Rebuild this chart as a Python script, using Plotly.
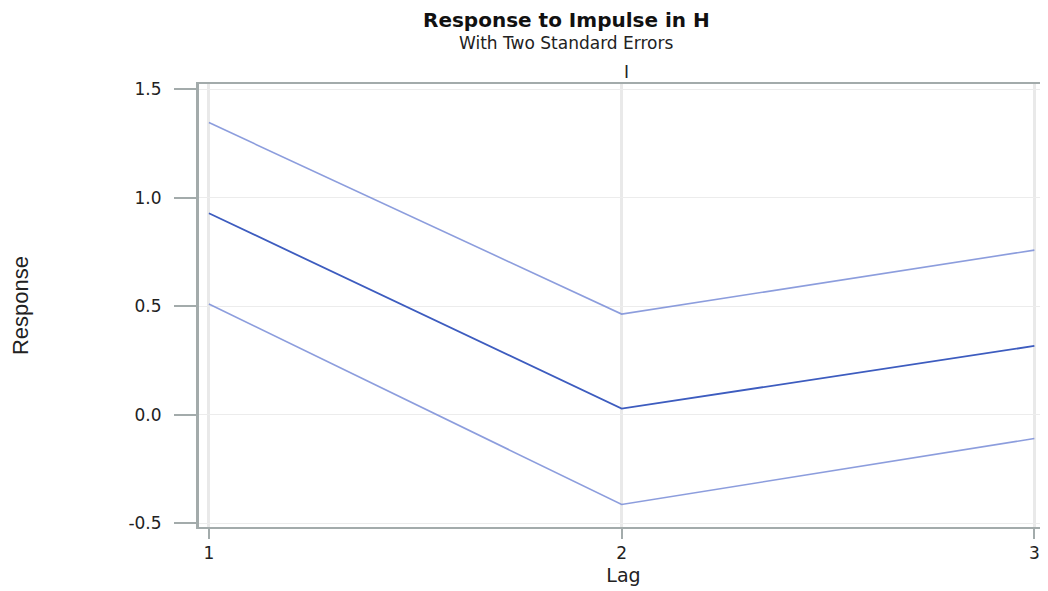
import plotly.graph_objects as go

lags = [1, 2, 3]
response = [0.929, 0.028, 0.317]
upper = [1.347, 0.464, 0.759]
lower = [0.510, -0.414, -0.110]
y_ticks = [-0.5, 0.0, 0.5, 1.0, 1.5]
x_ticks = [1, 2, 3]

# page body has an 8px margin; design the figure in page pixels minus 8
OFF = 8
W, H = 1048 - OFF, 591 - OFF
ML, MR, MT, MB = 199 - OFF, 0, 84 - OFF, 64
PW = W - ML - MR
PH = H - MT - MB

def px_x(x):
    return (x - OFF - ML) / PW

def px_y(y):
    return (H - MB - (y - OFF)) / PH

band_color = "rgba(120,140,215,0.85)"
main_color = "#3d5cbf"

fig = go.Figure()
fig.add_trace(go.Scatter(x=lags, y=upper, mode="lines",
                         line=dict(color=band_color, width=1.6), showlegend=False))
fig.add_trace(go.Scatter(x=lags, y=lower, mode="lines",
                         line=dict(color=band_color, width=1.6), showlegend=False))
fig.add_trace(go.Scatter(x=lags, y=response, mode="lines",
                         line=dict(color=main_color, width=1.8), showlegend=False))

tick_font = dict(family="DejaVu Sans, Liberation Sans, Arial", size=17, color="#222222")

fig.update_layout(
    width=W, height=H,
    margin=dict(l=ML, r=MR, t=MT, b=MB, pad=0),
    paper_bgcolor="white", plot_bgcolor="white",
    showlegend=False,
    xaxis=dict(
        range=[0.976, 3.033], tickmode="array", tickvals=x_ticks,
        ticktext=[str(v) for v in x_ticks],
        showgrid=True, gridcolor="#e9e9e9", gridwidth=2.5,
        showline=True, linecolor="#a3abab", linewidth=2, mirror=True,
        ticks="outside", ticklen=10, tickwidth=2, tickcolor="#a3abab",
        tickfont=tick_font, zeroline=False,
        title=dict(text="Lag", font=dict(family="DejaVu Sans, Liberation Sans, Arial",
                                          size=19, color="#222222"), standoff=6),
    ),
    yaxis=dict(
        range=[-0.518, 1.525], tickmode="array", tickvals=y_ticks,
        ticktext=[f"{v:.1f}" for v in y_ticks],
        showgrid=True, gridcolor="#ececec", gridwidth=1,
        showline=True, linecolor="#a3abab", linewidth=3, mirror=False,
        ticks="outside", ticklen=22, tickwidth=2, tickcolor="#a3abab",
        tickfont=tick_font, zeroline=False, ticklabelstandoff=9,
        title=dict(text="Response", font=dict(family="Liberation Sans Narrow, Liberation Sans, Arial",
                                               size=22, color="#222222"), standoff=100),
    ),
    annotations=[
        dict(text="<b>Response to Impulse in H</b>", xref="paper", yref="paper",
             x=px_x(566), y=px_y(20), xanchor="center", yanchor="middle", showarrow=False,
             font=dict(family="DejaVu Sans, Liberation Sans, Arial", size=20, color="#111111")),
        dict(text="With Two Standard Errors", xref="paper", yref="paper",
             x=px_x(566), y=px_y(43), xanchor="center", yanchor="middle", showarrow=False,
             font=dict(family="DejaVu Sans, Liberation Sans, Arial", size=17, color="#222222")),
        dict(text="I", xref="paper", yref="paper",
             x=px_x(626), y=px_y(72), xanchor="center", yanchor="middle", showarrow=False,
             font=dict(family="DejaVu Sans, Liberation Sans, Arial", size=17, color="#222222")),
    ],
)

fig.write_html("out.html")
